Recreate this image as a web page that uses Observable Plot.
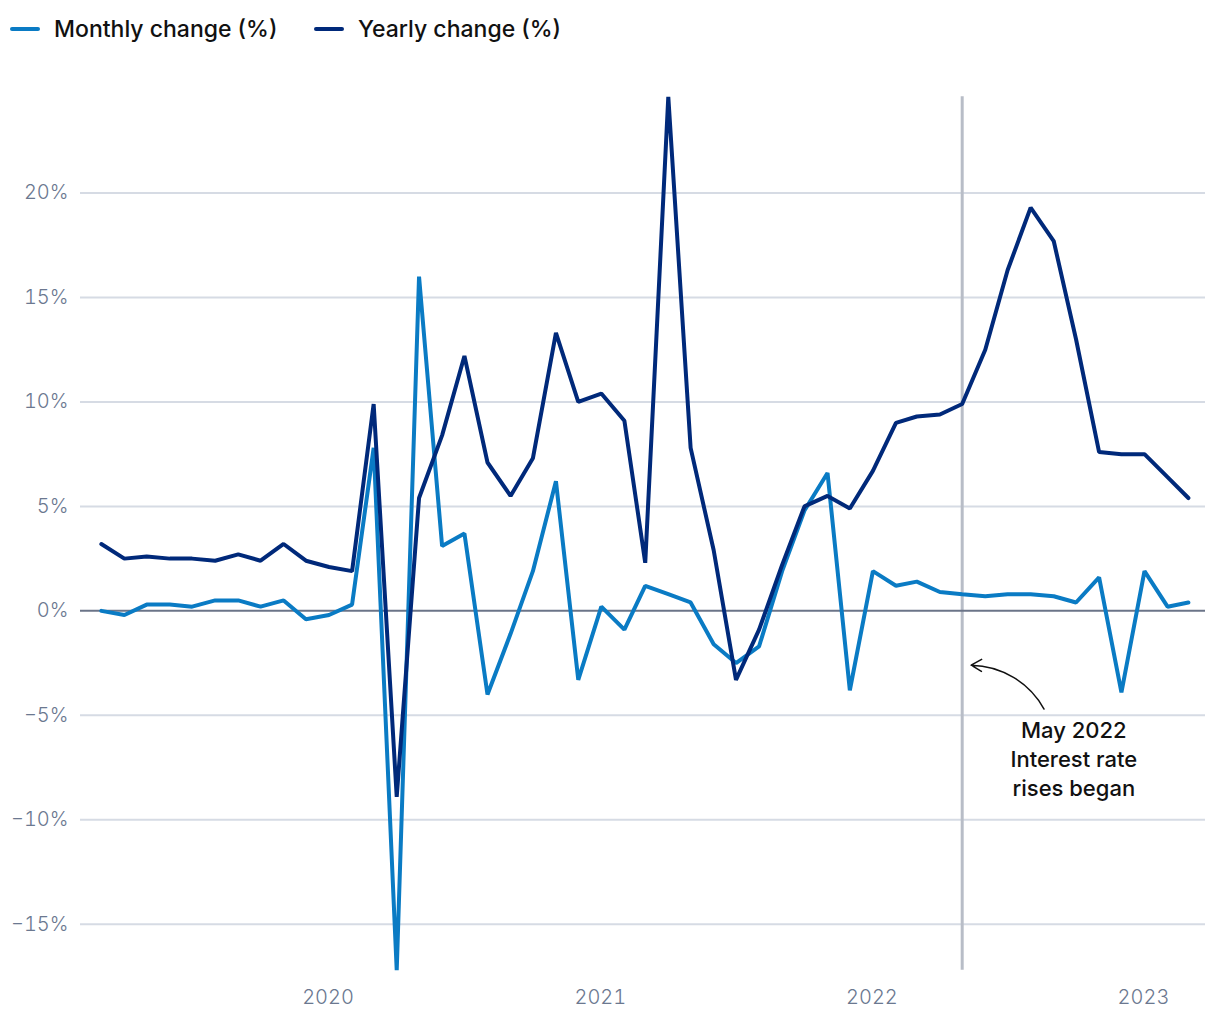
<!DOCTYPE html>
<html>
<head>
<meta charset="utf-8">
<script src="https://cdn.jsdelivr.net/npm/d3@7"></script>
<script src="https://cdn.jsdelivr.net/npm/@observablehq/plot@0.6"></script>
<style>
  html, body { margin: 0; padding: 0; background: #fff; }
  body { font-family: Inter, "Noto Sans", sans-serif; width: 1220px; }
  #legend { height: 58px; position: relative; font-size: 23px; font-weight: 500; color: #111; }
  #legend .item { position: absolute; top: 0; height: 58px; display: flex; align-items: center; }
  #legend .sw { width: 30px; height: 4px; border-radius: 2px; margin-right: 14px; }
  #chart svg { display: block; }
</style>
</head>
<body>
<div id="legend"></div>
<div id="chart"></div>
<script>
// ---- Data ----
const seriesNames = ["Monthly change (%)", "Yearly change (%)"];
const seriesColors = ["#0a7bc4", "#00297a"];
const startMonth = "2019-03-01";
const endMonth = "2023-04-01";
const monthlyChange = [
  0.0, -0.2, 0.3, 0.3, 0.2, 0.5, 0.5, 0.2, 0.5, -0.4,      // Mar 2019 – Dec 2019
  -0.2, 0.3, 7.8, -17.2, 16.0, 3.1, 3.7, -4.0, -1.1, 1.9, 6.2, -3.3, // 2020
  0.2, -0.9, 1.2, 0.8, 0.4, -1.6, -2.5, -1.7, 1.9, 4.8, 6.6, -3.8,   // 2021
  1.9, 1.2, 1.4, 0.9, 0.8, 0.7, 0.8, 0.8, 0.7, 0.4, 1.6, -3.9,       // 2022
  1.9, 0.2, 0.4                                                     // 2023
];
const yearlyChange = [
  3.2, 2.5, 2.6, 2.5, 2.5, 2.4, 2.7, 2.4, 3.2, 2.4,
  2.1, 1.9, 9.9, -8.9, 5.4, 8.4, 12.2, 7.1, 5.5, 7.3, 13.3, 10.0,
  10.4, 9.1, 2.3, 24.6, 7.8, 2.9, -3.3, -0.9, 2.2, 5.0, 5.5, 4.9,
  6.7, 9.0, 9.3, 9.4, 9.9, 12.5, 16.3, 19.3, 17.7, 13.0, 7.6, 7.5,
  7.5, 6.4, 5.4
];
const yTicks = [-15, -10, -5, 0, 5, 10, 15, 20];
const xTickYears = ["2020-01-01", "2021-01-01", "2022-01-01", "2023-01-01"];
const xDomain = ["2019-02-01", "2023-03-24"];
const yDomain = [-17.5, 25];
const rateRiseDate = "2022-05-01";
const noteText = "May 2022\nInterest rate\nrises began";
const notePos = { date: "2022-09-28", value: -7.05 };
const arrowFrom = { date: "2022-08-19", value: -4.7 };
const arrowTo = { date: "2022-05-13", value: -2.6 };

// ---- Build table ----
const months = d3.utcMonth.range(new Date(startMonth), new Date(endMonth));
const rows = months.map((d, i) => ({ date: d, monthly: monthlyChange[i], yearly: yearlyChange[i] }));

// ---- Legend ----
const legend = document.getElementById("legend");
const legendX = [10, 314];
seriesNames.forEach((name, i) => {
  const it = document.createElement("div");
  it.className = "item";
  it.style.left = legendX[i] + "px";
  it.innerHTML = `<span class="sw" style="background:${seriesColors[i]}"></span><span>${name}</span>`;
  legend.appendChild(it);
});

const fmt = d => (d < 0 ? "\u2212" + Math.abs(d) : d) + "%";

const chart = Plot.plot({
  width: 1220,
  height: 962,
  marginLeft: 80,
  marginRight: 15,
  marginTop: 30,
  marginBottom: 44,
  style: { fontFamily: "Inter, 'Noto Sans', sans-serif", fontSize: "20px", color: "#6b7890", background: "#fff" },
  x: { type: "utc", domain: xDomain.map(d => new Date(d)), label: null },
  y: { domain: yDomain, label: null },
  marks: [
    Plot.ruleY(yTicks.filter(d => d !== 0), { stroke: "#d6dbe4", strokeWidth: 2 }),
    Plot.ruleX([new Date(rateRiseDate)], {
      y1: d3.max(yearlyChange), y2: d3.min(monthlyChange),
      stroke: "#b8bdc7", strokeWidth: 3
    }),
    Plot.ruleY([0], { stroke: "#6b7488", strokeWidth: 2 }),
    Plot.axisY(yTicks, { tickSize: 0, tickPadding: 12, tickFormat: fmt, fontWeight: 300, fill: "#6b7890" }),
    Plot.axisX(xTickYears.map(d => new Date(d)), { tickSize: 0, tickPadding: 13, tickFormat: d3.utcFormat("%Y"), fontWeight: 300, fill: "#6b7890", dx: -1 }),
    Plot.lineY(rows, { x: "date", y: "monthly", stroke: seriesColors[0], strokeWidth: 4, strokeLinejoin: "miter" }),
    Plot.lineY(rows, { x: "date", y: "yearly", stroke: seriesColors[1], strokeWidth: 4, strokeLinejoin: "miter" }),
    Plot.arrow([{}], {
      x1: () => new Date(arrowFrom.date), y1: () => arrowFrom.value,
      x2: () => new Date(arrowTo.date), y2: () => arrowTo.value,
      bend: -30, headLength: 12, stroke: "#111", strokeWidth: 1.5
    }),
    Plot.text([noteText], {
      x: () => new Date(notePos.date), y: () => notePos.value, text: d => d,
      fontSize: 22, fontWeight: 500, fill: "#111", lineHeight: 1.32, textAnchor: "middle"
    })
  ]
});
document.getElementById("chart").appendChild(chart);
</script>
</body>
</html>
